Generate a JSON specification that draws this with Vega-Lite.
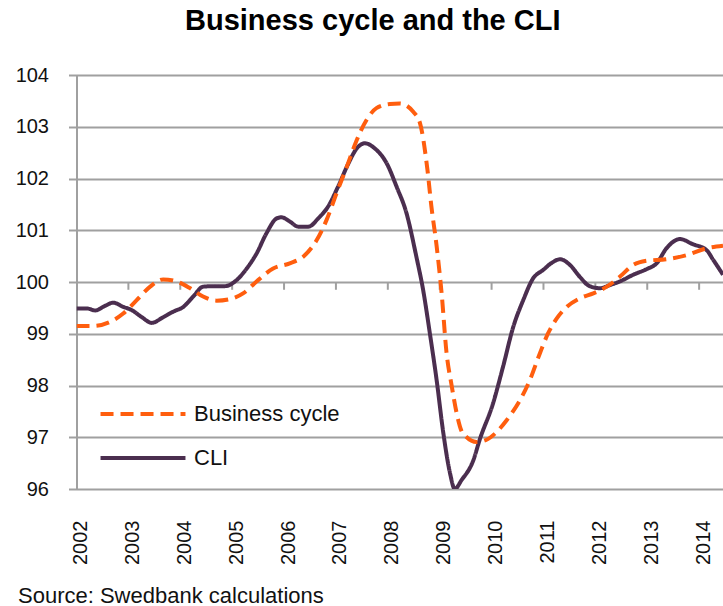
{
  "$schema": "https://vega.github.io/schema/vega-lite/v6.json",
  "autosize": {"type": "none"},
  "padding": {"left": 76.5, "top": 75, "right": 0, "bottom": 117},
  "width": 646.5,
  "height": 414,
  "background": "white",
  "title": {
    "text": "Business cycle and the CLI",
    "font": "Liberation Sans",
    "fontSize": 29,
    "fontWeight": "bold",
    "color": "#000000",
    "anchor": "middle",
    "offset": 29,
    "dx": -27
  },
  "config": {
    "view": {"stroke": null},
    "font": "Liberation Sans"
  },
  "datasets": {
    "series": [
      {"t": 2002.00, "v": 99.49, "s": "CLI"},
      {"t": 2002.20, "v": 99.49, "s": "CLI"},
      {"t": 2002.36, "v": 99.45, "s": "CLI"},
      {"t": 2002.55, "v": 99.54, "s": "CLI"},
      {"t": 2002.71, "v": 99.60, "s": "CLI"},
      {"t": 2002.90, "v": 99.52, "s": "CLI"},
      {"t": 2003.06, "v": 99.46, "s": "CLI"},
      {"t": 2003.26, "v": 99.32, "s": "CLI"},
      {"t": 2003.45, "v": 99.21, "s": "CLI"},
      {"t": 2003.67, "v": 99.32, "s": "CLI"},
      {"t": 2003.87, "v": 99.43, "s": "CLI"},
      {"t": 2004.06, "v": 99.52, "s": "CLI"},
      {"t": 2004.25, "v": 99.72, "s": "CLI"},
      {"t": 2004.44, "v": 99.91, "s": "CLI"},
      {"t": 2004.64, "v": 99.92, "s": "CLI"},
      {"t": 2004.86, "v": 99.92, "s": "CLI"},
      {"t": 2005.09, "v": 100.04, "s": "CLI"},
      {"t": 2005.28, "v": 100.26, "s": "CLI"},
      {"t": 2005.47, "v": 100.55, "s": "CLI"},
      {"t": 2005.66, "v": 100.94, "s": "CLI"},
      {"t": 2005.86, "v": 101.23, "s": "CLI"},
      {"t": 2005.95, "v": 101.25, "s": "CLI"},
      {"t": 2006.11, "v": 101.17, "s": "CLI"},
      {"t": 2006.27, "v": 101.07, "s": "CLI"},
      {"t": 2006.47, "v": 101.07, "s": "CLI"},
      {"t": 2006.66, "v": 101.23, "s": "CLI"},
      {"t": 2006.85, "v": 101.46, "s": "CLI"},
      {"t": 2007.04, "v": 101.84, "s": "CLI"},
      {"t": 2007.24, "v": 102.29, "s": "CLI"},
      {"t": 2007.40, "v": 102.58, "s": "CLI"},
      {"t": 2007.56, "v": 102.68, "s": "CLI"},
      {"t": 2007.75, "v": 102.58, "s": "CLI"},
      {"t": 2007.98, "v": 102.29, "s": "CLI"},
      {"t": 2008.17, "v": 101.84, "s": "CLI"},
      {"t": 2008.36, "v": 101.33, "s": "CLI"},
      {"t": 2008.55, "v": 100.49, "s": "CLI"},
      {"t": 2008.68, "v": 99.85, "s": "CLI"},
      {"t": 2008.81, "v": 99.01, "s": "CLI"},
      {"t": 2008.94, "v": 98.11, "s": "CLI"},
      {"t": 2009.07, "v": 97.08, "s": "CLI"},
      {"t": 2009.20, "v": 96.30, "s": "CLI"},
      {"t": 2009.29, "v": 96.00, "s": "CLI"},
      {"t": 2009.42, "v": 96.17, "s": "CLI"},
      {"t": 2009.65, "v": 96.56, "s": "CLI"},
      {"t": 2009.77, "v": 96.95, "s": "CLI"},
      {"t": 2010.03, "v": 97.66, "s": "CLI"},
      {"t": 2010.22, "v": 98.36, "s": "CLI"},
      {"t": 2010.42, "v": 99.14, "s": "CLI"},
      {"t": 2010.61, "v": 99.65, "s": "CLI"},
      {"t": 2010.80, "v": 100.07, "s": "CLI"},
      {"t": 2010.99, "v": 100.23, "s": "CLI"},
      {"t": 2011.16, "v": 100.37, "s": "CLI"},
      {"t": 2011.32, "v": 100.44, "s": "CLI"},
      {"t": 2011.51, "v": 100.33, "s": "CLI"},
      {"t": 2011.70, "v": 100.10, "s": "CLI"},
      {"t": 2011.89, "v": 99.92, "s": "CLI"},
      {"t": 2012.09, "v": 99.88, "s": "CLI"},
      {"t": 2012.28, "v": 99.94, "s": "CLI"},
      {"t": 2012.47, "v": 100.01, "s": "CLI"},
      {"t": 2012.73, "v": 100.14, "s": "CLI"},
      {"t": 2012.99, "v": 100.25, "s": "CLI"},
      {"t": 2013.18, "v": 100.36, "s": "CLI"},
      {"t": 2013.37, "v": 100.65, "s": "CLI"},
      {"t": 2013.63, "v": 100.83, "s": "CLI"},
      {"t": 2013.88, "v": 100.73, "s": "CLI"},
      {"t": 2014.14, "v": 100.62, "s": "CLI"},
      {"t": 2014.27, "v": 100.43, "s": "CLI"},
      {"t": 2014.46, "v": 100.14, "s": "CLI"},
      {"t": 2002.00, "v": 99.15, "s": "Business cycle"},
      {"t": 2002.32, "v": 99.15, "s": "Business cycle"},
      {"t": 2002.65, "v": 99.23, "s": "Business cycle"},
      {"t": 2002.90, "v": 99.39, "s": "Business cycle"},
      {"t": 2003.16, "v": 99.65, "s": "Business cycle"},
      {"t": 2003.42, "v": 99.91, "s": "Business cycle"},
      {"t": 2003.67, "v": 100.05, "s": "Business cycle"},
      {"t": 2003.93, "v": 100.01, "s": "Business cycle"},
      {"t": 2004.19, "v": 99.88, "s": "Business cycle"},
      {"t": 2004.44, "v": 99.72, "s": "Business cycle"},
      {"t": 2004.70, "v": 99.64, "s": "Business cycle"},
      {"t": 2004.96, "v": 99.67, "s": "Business cycle"},
      {"t": 2005.21, "v": 99.78, "s": "Business cycle"},
      {"t": 2005.47, "v": 100.01, "s": "Business cycle"},
      {"t": 2005.79, "v": 100.26, "s": "Business cycle"},
      {"t": 2006.11, "v": 100.36, "s": "Business cycle"},
      {"t": 2006.37, "v": 100.49, "s": "Business cycle"},
      {"t": 2006.63, "v": 100.81, "s": "Business cycle"},
      {"t": 2006.82, "v": 101.20, "s": "Business cycle"},
      {"t": 2007.01, "v": 101.71, "s": "Business cycle"},
      {"t": 2007.21, "v": 102.23, "s": "Business cycle"},
      {"t": 2007.40, "v": 102.74, "s": "Business cycle"},
      {"t": 2007.59, "v": 103.13, "s": "Business cycle"},
      {"t": 2007.78, "v": 103.36, "s": "Business cycle"},
      {"t": 2008.04, "v": 103.44, "s": "Business cycle"},
      {"t": 2008.23, "v": 103.45, "s": "Business cycle"},
      {"t": 2008.49, "v": 103.29, "s": "Business cycle"},
      {"t": 2008.62, "v": 103.07, "s": "Business cycle"},
      {"t": 2008.76, "v": 102.20, "s": "Business cycle"},
      {"t": 2008.84, "v": 101.46, "s": "Business cycle"},
      {"t": 2008.94, "v": 100.70, "s": "Business cycle"},
      {"t": 2009.04, "v": 99.75, "s": "Business cycle"},
      {"t": 2009.13, "v": 98.65, "s": "Business cycle"},
      {"t": 2009.23, "v": 98.00, "s": "Business cycle"},
      {"t": 2009.33, "v": 97.45, "s": "Business cycle"},
      {"t": 2009.42, "v": 97.12, "s": "Business cycle"},
      {"t": 2009.51, "v": 97.01, "s": "Business cycle"},
      {"t": 2009.71, "v": 96.91, "s": "Business cycle"},
      {"t": 2009.85, "v": 96.93, "s": "Business cycle"},
      {"t": 2010.03, "v": 97.04, "s": "Business cycle"},
      {"t": 2010.29, "v": 97.33, "s": "Business cycle"},
      {"t": 2010.55, "v": 97.72, "s": "Business cycle"},
      {"t": 2010.74, "v": 98.11, "s": "Business cycle"},
      {"t": 2010.93, "v": 98.62, "s": "Business cycle"},
      {"t": 2011.09, "v": 99.01, "s": "Business cycle"},
      {"t": 2011.26, "v": 99.30, "s": "Business cycle"},
      {"t": 2011.45, "v": 99.52, "s": "Business cycle"},
      {"t": 2011.71, "v": 99.69, "s": "Business cycle"},
      {"t": 2011.96, "v": 99.78, "s": "Business cycle"},
      {"t": 2012.22, "v": 99.91, "s": "Business cycle"},
      {"t": 2012.47, "v": 100.10, "s": "Business cycle"},
      {"t": 2012.73, "v": 100.33, "s": "Business cycle"},
      {"t": 2012.99, "v": 100.41, "s": "Business cycle"},
      {"t": 2013.37, "v": 100.44, "s": "Business cycle"},
      {"t": 2013.76, "v": 100.52, "s": "Business cycle"},
      {"t": 2014.14, "v": 100.65, "s": "Business cycle"},
      {"t": 2014.46, "v": 100.70, "s": "Business cycle"}
    ],
    "years": [
      {"t": 2003}, {"t": 2004}, {"t": 2005}, {"t": 2006}, {"t": 2007}, {"t": 2008},
      {"t": 2009}, {"t": 2010}, {"t": 2011}, {"t": 2012}, {"t": 2013}, {"t": 2014}
    ]
  },
  "layer": [
    {
      "data": {"name": "years"},
      "mark": {"type": "rule", "color": "#A0A0A0", "strokeWidth": 2},
      "encoding": {
        "x": {"field": "t", "type": "quantitative"},
        "y": {"datum": 100, "type": "quantitative"},
        "y2": {"datum": 99.85}
      }
    },
    {
      "data": {"name": "series"},
      "mark": {"type": "line", "interpolate": "monotone", "strokeWidth": 4, "clip": true},
      "encoding": {
        "x": {
          "field": "t",
          "type": "quantitative",
          "scale": {"domain": [2002, 2014.46], "nice": false, "zero": false},
          "axis": {
            "values": [2002, 2003, 2004, 2005, 2006, 2007, 2008, 2009, 2010, 2011, 2012, 2013, 2014],
            "format": "d",
            "labelAngle": -90,
            "labelFontSize": 20,
            "labelColor": "#111111",
            "labelPadding": 31,
            "labelOffset": 4,
            "labelFlush": false,
            "labelOverlap": false,
            "grid": false,
            "ticks": false,
            "domain": false,
            "title": "Source: Swedbank calculations",
            "titleAnchor": "start",
            "titleAlign": "left",
            "titleBaseline": "alphabetic",
            "titleX": -59,
            "titleY": 113,
            "titleFontSize": 22,
            "titleFontWeight": "normal",
            "titleColor": "#111111"
          }
        },
        "y": {
          "field": "v",
          "type": "quantitative",
          "scale": {"domain": [96, 104], "nice": false, "zero": false},
          "axis": {
            "values": [96, 97, 98, 99, 100, 101, 102, 103, 104],
            "title": null,
            "grid": true,
            "gridColor": "#A0A0A0",
            "gridWidth": 2,
            "domainColor": "#A0A0A0",
            "domainWidth": 2,
            "tickColor": "#A0A0A0",
            "tickWidth": 2,
            "tickSize": 8,
            "labelFontSize": 20,
            "labelColor": "#111111",
            "labelPadding": 20
          }
        },
        "color": {
          "field": "s",
          "type": "nominal",
          "scale": {"domain": ["Business cycle", "CLI"], "range": ["#FF5E0E", "#4B2E4F"]},
          "legend": {
            "title": null,
            "orient": "none",
            "legendX": 53.5,
            "legendY": 326,
            "padding": 0,
            "symbolType": "M-4,0H4",
            "symbolSize": 451,
            "symbolStrokeWidth": 4,
            "labelFontSize": 22,
            "labelColor": "#111111",
            "labelOffset": 38,
            "rowPadding": 20
          }
        },
        "strokeDash": {
          "field": "s",
          "type": "nominal",
          "scale": {"domain": ["Business cycle", "CLI"], "range": [[13, 7], [1, 0]]},
          "legend": {
            "title": null,
            "orient": "none",
            "legendX": 53.5,
            "legendY": 326,
            "padding": 0,
            "symbolType": "M-4,0H4",
            "symbolSize": 451,
            "symbolStrokeWidth": 4,
            "labelFontSize": 22,
            "labelColor": "#111111",
            "labelOffset": 38,
            "rowPadding": 20
          }
        }
      }
    }
  ]
}
